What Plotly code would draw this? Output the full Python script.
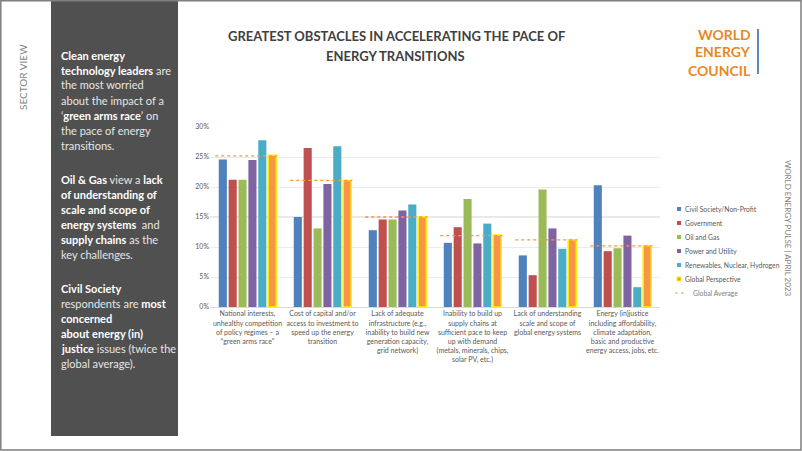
import plotly.graph_objects as go

W, H = 802, 451
PL, PR, PT, PB = 210, 660, 127, 307  # plot area in pixels

categories = [
    "National interests,<br>unhealthy competition<br>of policy regimes – a<br>“green arms race”",
    "Cost of capital and/or<br>access to investment to<br>speed up the energy<br>transition",
    "Lack of adequate<br>infrastructure (e.g.,<br>inability to build new<br>generation capacity,<br>grid network)",
    "Inability to build up<br>supply chains at<br>sufficient pace to keep<br>up with demand<br>(metals, minerals, chips,<br>solar PV, etc.)",
    "Lack of understanding<br>scale and scope of<br>global energy systems",
    "Energy (in)justice<br>including affordability,<br>climate adaptation,<br>basic and productive<br>energy access, jobs, etc.",
]

civil_society = [24.6, 15.0, 12.8, 10.7, 8.6, 20.3]
government = [21.2, 26.5, 14.6, 13.3, 5.3, 9.3]
oil_and_gas = [21.2, 13.1, 14.6, 18.0, 19.6, 9.8]
power_utility = [24.5, 20.5, 16.1, 10.6, 13.1, 11.9]
renewables = [27.8, 26.8, 17.1, 13.9, 9.7, 3.3]
global_perspective = [25.3, 21.1, 15.0, 12.0, 11.2, 10.2]
global_average = [25.2, 21.1, 15.0, 11.9, 11.2, 10.2]

y_ticks = [0, 5, 10, 15, 20, 25, 30]
y_tick_labels = ["0%", "5%", "10%", "15%", "20%", "25%", "30%"]

series = [
    ("Civil Society/Non-Profit", civil_society, "#4F81BD"),
    ("Government", government, "#C0504D"),
    ("Oil and Gas", oil_and_gas, "#9BBB59"),
    ("Power and Utility", power_utility, "#8064A2"),
    ("Renewables, Nuclear, Hydrogen", renewables, "#4BACC6"),
]
GP_NAME, GP_COL, GP_EDGE = "Global Perspective", "#F79646", "#FFF200"
AVG_NAME, AVG_COL = "Global Average", "#F79646"


def px(x):
    return (x - PL) / (PR - PL)


def py(y):
    return (PB - y) / (PB - PT)


xs = list(range(len(categories)))
fig = go.Figure()
for name, vals, col in series:
    fig.add_trace(go.Bar(x=xs, y=vals, name=name, marker=dict(color=col, line=dict(width=0))))
fig.add_trace(go.Bar(x=xs, y=global_perspective, name=GP_NAME,
                     marker=dict(color=GP_COL, line=dict(color=GP_EDGE, width=1.5))))

ax, ay = [], []
for i, v in enumerate(global_average):
    ax += [i - 0.43, i + 0.40, None]
    ay += [v, v, None]
fig.add_trace(go.Scatter(x=ax, y=ay, mode="lines", name=AVG_NAME,
                         line=dict(color=AVG_COL, width=1.3, dash="dot")))

shapes = [
    dict(type="rect", xref="paper", yref="paper", x0=px(51), x1=px(178), y0=py(436), y1=py(0.5),
         fillcolor="#505050", line=dict(width=0), layer="below"),
    dict(type="rect", xref="paper", yref="paper", x0=px(0.8), x1=px(801), y0=py(450), y1=py(0.8),
         line=dict(color="#7f7f7f", width=1.5)),
    dict(type="line", xref="paper", yref="paper", x0=px(758), x1=px(758), y0=py(74), y1=py(29),
         line=dict(color="#2E5F9A", width=1.5)),
    dict(type="line", xref="paper", yref="y", x0=0, x1=1, y0=15, y1=15,
         line=dict(color="#d0d0d0", width=1), layer="below"),
]

annotations = []

# manual legend
leg_items = [(n, c, None) for n, _, c in series] + [(GP_NAME, GP_COL, GP_EDGE)]
LY0, LSTEP = 209, 14
for k, (n, c, e) in enumerate(leg_items):
    yy = LY0 + k * LSTEP
    shapes.append(dict(type="rect", xref="paper", yref="paper",
                       x0=px(677), x1=px(681), y0=py(yy + 2), y1=py(yy - 2),
                       fillcolor=c, line=dict(color=e if e else c, width=1 if e else 0)))
    annotations.append(dict(text=n, x=px(683), y=py(yy), xref="paper", yref="paper",
                            xanchor="left", yanchor="middle", showarrow=False,
                            font=dict(family="Lato", size=6.8, color="#595959")))
yy = LY0 + len(leg_items) * LSTEP
shapes.append(dict(type="line", xref="paper", yref="paper", x0=px(675), x1=px(687),
                   y0=py(yy), y1=py(yy), line=dict(color=AVG_COL, width=1, dash="dot")))
annotations.append(dict(text=AVG_NAME, x=px(691), y=py(yy), xref="paper", yref="paper",
                        xanchor="left", yanchor="middle", showarrow=False,
                        font=dict(family="Lato", size=6.8, color="#7f7f7f")))

panel_font = "Lato"
W_ = "#ffffff"
G_ = "#e6e6e6"


def b(t):
    return f"<b><span style='color:{W_}'>{t}</span></b>"


def r(t):
    return f"<span style='color:{G_}'>{t}</span>"


panel_lines = [
    (55, b("Clean energy")),
    (70, b("technology leaders") + r(" are")),
    (85, r("the most worried")),
    (100, r("about the impact of a")),
    (115, r("‘") + b("green arms race") + r("’ on")),
    (130, r("the pace of energy")),
    (145, r("transitions.")),
    (179, b("Oil &amp; Gas") + r(" view a ") + b("lack")),
    (194, b("of understanding of")),
    (209, b("scale and scope of")),
    (224, b("energy systems") + r("  and")),
    (239, b("supply chains") + r(" as the")),
    (254, r("key challenges.")),
    (288, b("Civil Society")),
    (303, r("respondents are ") + b("most")),
    (318, b("concerned")),
    (333, b("about energy (in)")),
    (348, b("justice") + r(" issues (twice the")),
    (363, r("global average).")),
]
for yy, t in panel_lines:
    annotations.append(dict(text=t, x=px(59), y=py(yy), xref="paper", yref="paper",
                            xanchor="left", yanchor="middle", showarrow=False,
                            font=dict(family=panel_font, size=11, color=G_)))

annotations += [
    dict(text="SECTOR VIEW", x=px(23), y=py(77), xref="paper", yref="paper", textangle=-90,
         xanchor="center", yanchor="middle",
         showarrow=False, font=dict(family=panel_font, size=10, color="#7f7f7f")),
    dict(text="WORLD ENERGY PULSE | APRIL 2023", x=px(788), y=py(228), xref="paper", yref="paper",
         textangle=90, xanchor="center", yanchor="middle",
         showarrow=False, font=dict(family=panel_font, size=8, color="#7f7f7f")),
    dict(text="<b>GREATEST OBSTACLES IN ACCELERATING THE PACE OF</b>",
         x=px(396), y=py(36), xref="paper", yref="paper", showarrow=False,
         xanchor="center", yanchor="middle",
         font=dict(family="Lato", size=13, color="#404040")),
    dict(text="<b>ENERGY TRANSITIONS</b>",
         x=px(395), y=py(56), xref="paper", yref="paper", showarrow=False,
         xanchor="center", yanchor="middle",
         font=dict(family="Lato", size=13, color="#404040")),
]
for yy, t in [(34, "WORLD"), (52, "ENERGY"), (70, "COUNCIL")]:
    annotations.append(dict(text=f"<b>{t}</b>", x=px(753), y=py(yy), xref="paper", yref="paper",
                            xanchor="right", yanchor="middle", showarrow=False,
                            font=dict(family="Lato", size=14, color="#E8891F")))

fig.update_layout(
    width=W, height=H,
    margin=dict(l=PL, r=W - PR, t=PT, b=H - PB, pad=0, autoexpand=False),
    paper_bgcolor="white", plot_bgcolor="white",
    barmode="group", bargap=0.21, bargroupgap=0.18,
    showlegend=False,
    hovermode=False,
    xaxis=dict(tickmode="array", tickvals=xs, ticktext=categories, range=[-0.5, 5.5],
               showgrid=False, showline=True, linecolor="#d9d9d9", ticks="", tickangle=0,
               automargin=False,
               tickfont=dict(family="Lato", size=7, color="#595959")),
    yaxis=dict(tickmode="array", tickvals=y_ticks, ticktext=y_tick_labels, range=[0, 30],
               showgrid=True, gridcolor="#ebebeb", zeroline=False, showline=False, ticks="",
               automargin=False,
               tickfont=dict(family="Lato", size=7, color="#595959")),
    shapes=shapes,
    annotations=annotations,
)

fig.write_html("out.html", config={"displayModeBar": False},
               post_script="document.body.style.margin='0px';document.body.style.overflow='hidden';")
